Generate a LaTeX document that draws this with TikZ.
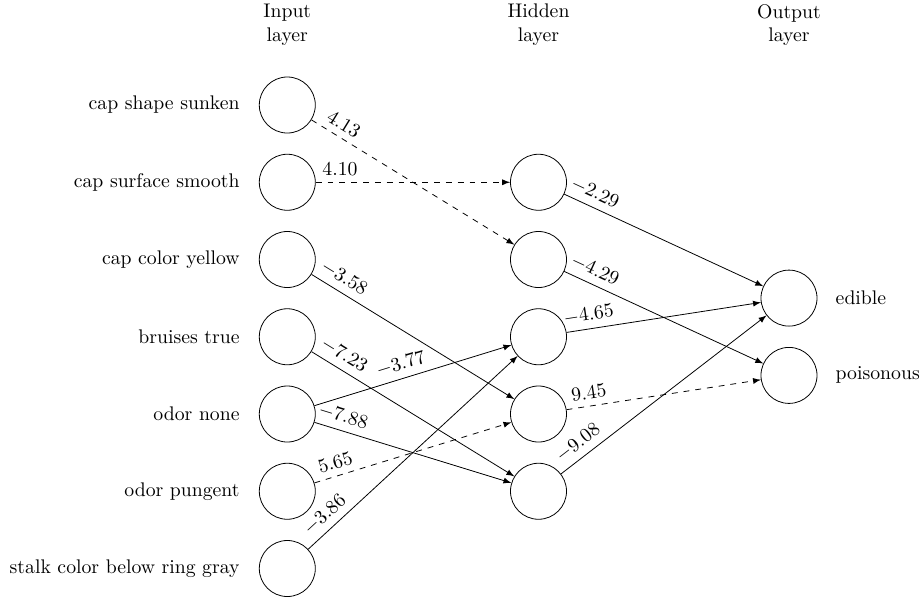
\documentclass[tikz,border=0pt]{standalone}
\usetikzlibrary{arrows}
\begin{document}
\begin{tikzpicture}[x=0.507pt,y=-0.507pt,
  neuron/.style={circle,draw,minimum size=28.4pt,inner sep=0pt},
  edge/.style={-latex},
  wlabel/.style={pos=0.125,sloped,above},
  inlabel/.style={anchor=east,inner sep=0pt},
  outlabel/.style={anchor=west,inner sep=0pt},
  header/.style={align=center}]
\useasboundingbox (0,0) rectangle (923,598);
% input layer
\node[neuron] (i1) at (287.3,105) {};
\node[neuron] (i2) at (287.3,182.25) {};
\node[neuron] (i3) at (287.3,259.5) {};
\node[neuron] (i4) at (287.3,336.75) {};
\node[neuron] (i5) at (287.3,414) {};
\node[neuron] (i6) at (287.3,491.25) {};
\node[neuron] (i7) at (287.3,568.5) {};
% hidden layer
\node[neuron] (h1) at (538.5,182.25) {};
\node[neuron] (h2) at (538.5,259.5) {};
\node[neuron] (h3) at (538.5,336.75) {};
\node[neuron] (h4) at (538.5,414) {};
\node[neuron] (h5) at (538.5,491.25) {};
% output layer
\node[neuron] (o1) at (789,298.1) {};
\node[neuron] (o2) at (789,375.4) {};
% input labels
\node[inlabel] (l1) at ([xshift=-9.6pt]i1.west) {cap shape sunken};
\node[inlabel] (l2) at ([xshift=-9.6pt]i2.west) {cap surface smooth};
\node[inlabel] (l3) at ([xshift=-9.6pt]i3.west) {cap color yellow};
\node[inlabel] (l4) at ([xshift=-9.6pt]i4.west) {bruises true};
\node[inlabel] (l5) at ([xshift=-9.6pt]i5.west) {odor none};
\node[inlabel] (l6) at ([xshift=-9.6pt]i6.west) {odor pungent};
\node[inlabel] (l7) at ([xshift=-9.6pt]i7.west) {stalk color below ring gray};
% output labels
\node[outlabel] (ol1) at ([xshift=9.1pt]o1.east) {edible};
\node[outlabel] (ol2) at ([xshift=9.1pt]o2.east) {poisonous};
% headers
\node[header] (hi) at (287.3,25) {Input\\layer};
\node[header] (hh) at (538.5,25) {Hidden\\layer};
\node[header] (ho) at (789,25) {Output\\layer};
% edges input -> hidden
\draw[edge,dashed] (i1) -- node[wlabel] {$4.13$} (h2);
\draw[edge,dashed] (i2) -- node[wlabel] {$4.10$} (h1);
\draw[edge] (i3) -- node[wlabel] {$-3.58$} (h4);
\draw[edge] (i4) -- node[wlabel] {$-7.23$} (h5);
\draw[edge] (i5) -- node[wlabel,pos=0.46] {$-3.77$} (h3);
\draw[edge] (i5) -- node[wlabel] {$-7.88$} (h5);
\draw[edge,dashed] (i6) -- node[wlabel] {$5.65$} (h4);
\draw[edge] (i7) -- node[wlabel] {$-3.86$} (h3);
% edges hidden -> output
\draw[edge] (h1) -- node[wlabel] {$-2.29$} (o1);
\draw[edge] (h2) -- node[wlabel] {$-4.29$} (o2);
\draw[edge] (h3) -- node[wlabel] {$-4.65$} (o1);
\draw[edge,dashed] (h4) -- node[wlabel] {$9.45$} (o2);
\draw[edge] (h5) -- node[wlabel] {$-9.08$} (o1);
\end{tikzpicture}
\end{document}
